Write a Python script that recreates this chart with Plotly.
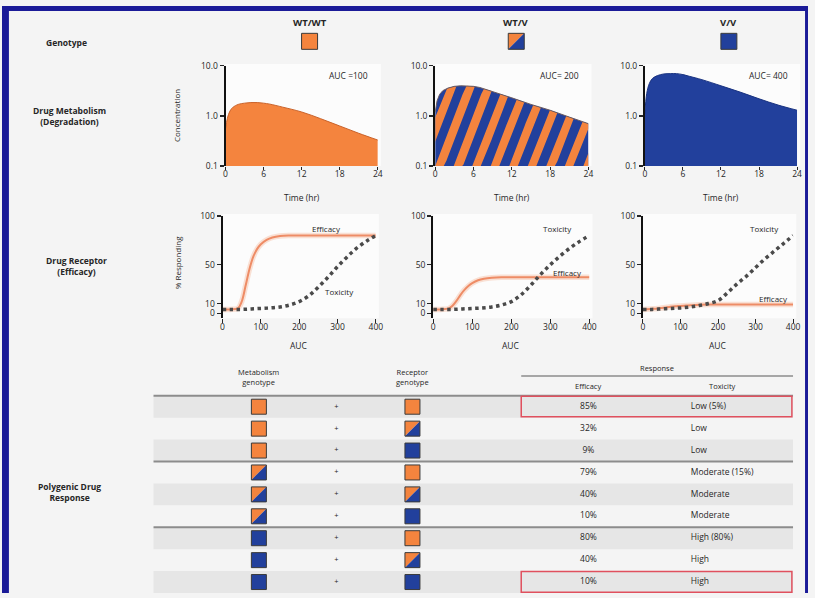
import math
import numpy as np
import plotly.graph_objects as go

W, H = 815, 598
ORANGE = "#F4843E"
BLUE = "#22409C"
EDGE_OR = "#C9622A"
EDGE_BL = "#1A3380"
EFF = "#EE8C66"
EFF_GLOW = "rgba(247,190,165,0.45)"
TOX = "#4a4a4a"
TXT = "#262626"
PAGE = "#F4F4F4"
PANEL = "#FCFCFC"
FRAME = "#1B1B98"
FONT = "Open Sans"

# ---- data -----------------------------------------------------------------
genotypes = ["WT/WT", "WT/V", "V/V"]
auc_labels = ["AUC =100", "AUC= 200", "AUC= 400"]

time_hr = [0, 0.3, 0.7, 1.2, 2, 3, 4, 5, 6, 7, 9, 12, 15, 18, 21, 24]
conc_wt_wt = [0.55, 0.9, 1.25, 1.5, 1.7, 1.8, 1.85, 1.85, 1.8, 1.72, 1.5, 1.2, 0.88, 0.63, 0.45, 0.33]
conc_wt_v = [1.2, 2.0, 2.7, 3.2, 3.6, 3.9, 4.0, 4.0, 3.9, 3.7, 3.1, 2.3, 1.7, 1.3, 0.95, 0.7]
conc_v_v = [1.1, 2.8, 4.4, 5.6, 6.4, 6.9, 7.0, 7.0, 6.7, 6.2, 5.3, 4.0, 3.0, 2.2, 1.65, 1.3]
time_ticks = [0, 6, 12, 18, 24]
conc_ticks = [0.1, 1.0, 10.0]
conc_tick_text = ["0.1", "1.0", "10.0"]

auc_eff = [0, 20, 40, 50, 60, 70, 80, 90, 100, 115, 130, 150, 175, 200, 250, 300, 350, 400]
eff_wt_wt = [4, 4, 5, 12, 28, 45, 58, 66, 71, 75.5, 78, 79.5, 80, 80, 80, 80, 80, 80]
eff_wt_v = [4, 4, 5, 8, 13, 19, 24, 28, 31, 34, 35.5, 36.5, 37, 37, 37, 37, 37, 37]
eff_v_v = [4, 4.5, 5, 5.5, 6, 6.5, 7, 7.3, 7.6, 8, 8.4, 8.8, 9, 9, 9, 9, 9, 9]

auc_tox = [0, 25, 50, 75, 100, 125, 150, 175, 200, 225, 250, 275, 300, 325, 350, 375, 400]
tox_wt_wt = [4, 4, 4, 4.5, 5, 5.5, 6.5, 8.5, 12, 18, 27, 37, 48, 58, 67, 74, 80]
tox_wt_v = [4, 4, 4, 4.5, 5, 5.5, 6.5, 8.5, 12, 19, 29, 40, 50, 59, 67, 74, 80]
tox_v_v = [4, 4, 4.5, 5, 5.5, 6.5, 8, 10, 13, 21, 30, 38, 47, 56, 64, 72, 80]
auc_ticks = [0, 100, 200, 300, 400]
resp_ticks = [0, 10, 50, 100]

# label anchors inside the response panels (AUC, % responding)
eff_label_pos = [(272, 87), (345, 42), (348, 15)]
tox_label_pos = [(305, 22), (318, 87), (325, 87)]

# polygenic response table
met_geno = ["WT/WT", "WT/WT", "WT/WT", "WT/V", "WT/V", "WT/V", "V/V", "V/V", "V/V"]
rec_geno = ["WT/WT", "WT/V", "V/V", "WT/WT", "WT/V", "V/V", "WT/WT", "WT/V", "V/V"]
efficacy_txt = ["85%", "32%", "9%", "79%", "40%", "10%", "80%", "40%", "10%"]
toxicity_txt = ["Low (5%)", "Low", "Low", "Moderate (15%)", "Moderate", "Moderate",
                "High (80%)", "High", "High"]
highlight_rows = [1, 9]

# heterozygote hatching: repeat along the time axis and slant per decade (hours)
STRIPE_PERIOD = 2.9
STRIPE_SLANT_PER_DECADE = 3.0


# ---- layout helpers ---------------------------------------------------------
def fx(x):
    return x / W


def fy(y):
    return 1 - y / H


def axn(k):
    return ("x" if k == 1 else f"x{k}"), ("y" if k == 1 else f"y{k}")


def hatch_under_curve(ts, conc, floor):
    """Slanted bands (in time / log-concentration space) cut to the area between
    the floor and the linearly joined curve. Returns x, y lists with None breaks."""
    tt = np.linspace(ts[0], ts[-1], 1201)
    top = np.interp(tt, ts, np.log10(conc))
    lb = math.log10(floor)
    s = STRIPE_SLANT_PER_DECADE
    span = s * (top.max() - lb)
    xs, ys = [], []
    k = -math.ceil(span / STRIPE_PERIOD) - 1
    while k * STRIPE_PERIOD < ts[-1]:
        a = k * STRIPE_PERIOD
        b = a + STRIPE_PERIOD / 2
        upper = np.minimum(top, (tt - a) / s + lb)
        lower = np.maximum(lb, (tt - b) / s + lb)
        idx = np.flatnonzero(upper > lower)
        if idx.size:
            runs = np.split(idx, np.flatnonzero(np.diff(idx) > 1) + 1)
            for run in runs:
                px = list(tt[run]) + list(tt[run][::-1])
                py = list(upper[run]) + list(lower[run][::-1])
                xs += px + [px[0], None]
                ys += [10 ** v for v in py] + [10 ** py[0], None]
        k += 1
    return xs, ys


TOP_X = [(226, 380), (438, 593), (650, 804)]
TOP_Y = (61, 163)
BOT_X = [(223, 378), (436, 594), (648, 800)]
BOT_Y = (214, 318)
TAB_X = (153, 800)
TAB_Y = (360, 598)

# table column positions (fraction of table width)
C_MET, C_PLUS, C_REC, C_EFF, C_TOX = 0.165, 0.286, 0.405, 0.68, 0.84
C_RESP0 = 0.575

fig = go.Figure()
shapes = []
annotations = []


def geno_box(xref, yref, xa, ya, geno, half=7.5, lw=1.0):
    """Genotype swatch: solid orange, solid blue, or split diagonally."""
    common = dict(xref=xref, yref=yref, xsizemode="pixel", ysizemode="pixel",
                  xanchor=xa, yanchor=ya, layer="above")
    h = half
    if geno == "WT/WT":
        shapes.append(dict(type="rect", x0=-h, x1=h, y0=-h, y1=h, fillcolor=ORANGE,
                           line=dict(color="#3a3a3a", width=lw), **common))
    elif geno == "V/V":
        shapes.append(dict(type="rect", x0=-h, x1=h, y0=-h, y1=h, fillcolor=BLUE,
                           line=dict(color="#3a3a3a", width=lw), **common))
    else:
        shapes.append(dict(type="path", path=f"M{-h},{h} L{h},{h} L{-h},{-h} Z",
                           fillcolor=ORANGE, line=dict(width=0), **common))
        shapes.append(dict(type="path", path=f"M{h},{h} L{h},{-h} L{-h},{-h} Z",
                           fillcolor=BLUE, line=dict(width=0), **common))
        shapes.append(dict(type="rect", x0=-h, x1=h, y0=-h, y1=h,
                           line=dict(color="#3a3a3a", width=lw), **common))


def text(x, y, s, size=9, bold=False, xref="paper", yref="paper", **kw):
    if bold:
        s = f"<b>{s}</b>"
    kw.setdefault("xanchor", "center")
    kw.setdefault("yanchor", "middle")
    annotations.append(dict(x=x, y=y, xref=xref, yref=yref, text=s, showarrow=False,
                            font=dict(family=FONT, size=size, color=TXT), **kw))


def hidden(**kw):
    return go.Scatter(mode="lines", line=dict(width=0), hoverinfo="skip",
                      showlegend=False, **kw)


# ---- concentration-time panels ---------------------------------------------
conc_series = [conc_wt_wt, conc_wt_v, conc_v_v]
t_lo, t_hi = time_hr[0], time_hr[-1]
c_lo, c_hi = conc_ticks[0], conc_ticks[-1]
for i, conc in enumerate(conc_series):
    xa, ya = axn(i + 1)
    geno = genotypes[i]
    fill = ORANGE if geno == "WT/WT" else BLUE
    edge = EDGE_OR if geno == "WT/WT" else EDGE_BL
    shape = "linear" if geno == "WT/V" else "spline"
    fig.add_trace(hidden(x=[t_lo, t_hi], y=[c_lo, c_lo], xaxis=xa, yaxis=ya))
    fig.add_trace(go.Scatter(x=time_hr, y=conc, fill="tonexty", fillcolor=fill,
                             mode="lines", line=dict(width=0, shape=shape),
                             hoverinfo="skip", showlegend=False, xaxis=xa, yaxis=ya))
    if geno == "WT/V":
        # orange hatching over the blue area for the heterozygote
        hx, hy = hatch_under_curve(time_hr, conc, c_lo)
        fig.add_trace(go.Scatter(x=hx, y=hy, fill="toself", fillcolor=ORANGE,
                                 mode="lines", line=dict(width=0), hoverinfo="skip",
                                 showlegend=False, xaxis=xa, yaxis=ya))
        edge = "#6a5a60"
    fig.add_trace(go.Scatter(x=time_hr, y=conc, mode="lines",
                             line=dict(color=edge, width=1, shape=shape),
                             hoverinfo="skip", showlegend=False, xaxis=xa, yaxis=ya))
    annotations.append(dict(x=0.81, y=0.9, xref=f"{xa} domain", yref=f"{ya} domain",
                            text=auc_labels[i], showarrow=False, xanchor="center",
                            yanchor="middle", font=dict(family=FONT, size=8.5, color=TXT)))

# ---- dose-response panels ---------------------------------------------------
eff_series = [eff_wt_wt, eff_wt_v, eff_v_v]
tox_series = [tox_wt_wt, tox_wt_v, tox_v_v]
for i in range(3):
    xa, ya = axn(i + 4)
    fig.add_trace(go.Scatter(x=auc_eff, y=eff_series[i], mode="lines",
                             line=dict(color=EFF_GLOW, width=5.5, shape="spline"),
                             hoverinfo="skip", showlegend=False, xaxis=xa, yaxis=ya))
    fig.add_trace(go.Scatter(x=auc_eff, y=eff_series[i], mode="lines",
                             line=dict(color=EFF, width=2, shape="spline"),
                             hoverinfo="skip", showlegend=False, xaxis=xa, yaxis=ya))
    fig.add_trace(go.Scatter(x=auc_tox, y=tox_series[i], mode="lines",
                             line=dict(color=TOX, width=3.5, dash="3.5px,3.5px",
                                       shape="spline"),
                             hoverinfo="skip", showlegend=False, xaxis=xa, yaxis=ya))
    ex, ey = eff_label_pos[i]
    tx, ty = tox_label_pos[i]
    text(ex, ey, "Efficacy", size=8, xref=xa, yref=ya)
    text(tx, ty, "Toxicity", size=8, xref=xa, yref=ya)

# ---- polygenic response table -----------------------------------------------
rows = list(range(1, len(efficacy_txt) + 1))
xt, yt = axn(7)
for r in rows:
    if r % 2 == 1:
        shapes.append(dict(type="rect", xref=xt, yref=yt, x0=0, x1=1, y0=r - 0.5, y1=r + 0.5,
                           fillcolor="#E6E6E6", line=dict(width=0), layer="below"))
for b in [0.5, 3.5, 6.5]:
    shapes.append(dict(type="line", xref=xt, yref=yt, x0=0, x1=1, y0=b, y1=b,
                       line=dict(color="#8C8C8C", width=2)))
shapes.append(dict(type="line", xref=xt, yref=yt, x0=C_RESP0, x1=1, y0=-0.4, y1=-0.4,
                   line=dict(color="#8C8C8C", width=1.5)))
for r in highlight_rows:
    shapes.append(dict(type="rect", xref=xt, yref=yt, x0=C_RESP0, x1=0.998,
                       y0=r - 0.48, y1=r + 0.46, line=dict(color="#E0505E", width=1.5)))
for r, m, c in zip(rows, met_geno, rec_geno):
    geno_box(xt, yt, C_MET, r, m)
    geno_box(xt, yt, C_REC, r, c)

tab_font = dict(family=FONT, size=8.5, color=TXT)
fig.add_trace(go.Scatter(x=[C_PLUS] * len(rows), y=rows, text=["+"] * len(rows),
                         mode="text", textfont=dict(family=FONT, size=7.5, color=TXT),
                         hoverinfo="skip", showlegend=False, xaxis=xt, yaxis=yt))
fig.add_trace(go.Scatter(x=[C_EFF] * len(rows), y=rows, text=efficacy_txt,
                         mode="text", textfont=tab_font, hoverinfo="skip",
                         showlegend=False, xaxis=xt, yaxis=yt))
fig.add_trace(go.Scatter(x=[C_TOX] * len(rows), y=rows, text=toxicity_txt,
                         mode="text", textposition="middle right", textfont=tab_font,
                         hoverinfo="skip", showlegend=False, xaxis=xt, yaxis=yt))

text(C_MET, -0.35, "Metabolism<br>genotype", size=7.5, xref=xt, yref=yt)
text(C_REC, -0.35, "Receptor<br>genotype", size=7.5, xref=xt, yref=yt)
text((C_RESP0 + 1) / 2, -0.75, "Response", size=7.5, xref=xt, yref=yt)
text(C_EFF, 0.05, "Efficacy", size=7.5, xref=xt, yref=yt)
text(0.89, 0.05, "Toxicity", size=7.5, xref=xt, yref=yt)

# ---- row and column headers -------------------------------------------------
text(fx(65), fy(37), "Genotype", size=8.5, bold=True)
text(fx(68), fy(112), "Drug Metabolism<br>(Degradation)", size=8.5, bold=True)
text(fx(75), fy(265), "Drug Receptor<br>(Efficacy)", size=8.5, bold=True)
text(fx(68), fy(495), "Polygenic Drug<br>Response", size=8.5, bold=True)
for g, cx in zip(genotypes, [311, 520, 735]):
    text(fx(cx), fy(17), g, size=9.5, bold=True)
    geno_box("paper", "paper", fx(cx), fy(36), g, half=8)

text(fx(177), fy(112), "Concentration", size=8, textangle=-90)
text(fx(177), fy(262), "% Responding", size=8, textangle=-90)
for (x0, x1) in TOP_X:
    text(fx((x0 + x1) / 2), fy(195), "Time (hr)", size=8.5)
for (x0, x1) in BOT_X:
    text(fx((x0 + x1) / 2), fy(346), "AUC", size=8.5)

# light plotting areas
for k in range(1, 7):
    xa, ya = axn(k)
    shapes.append(dict(type="rect", xref=f"{xa} domain", yref=f"{ya} domain",
                       x0=0, x1=1.02, y0=0, y1=1.02, fillcolor=PANEL,
                       line=dict(width=0), layer="below"))

# blue slide frame
for x0, x1, y0, y1 in [(0, 7, 0, H), (0, W, 0, 5), (812, W, 0, H)]:
    shapes.append(dict(type="rect", xref="paper", yref="paper", x0=fx(x0), x1=fx(x1),
                       y0=fy(y1), y1=fy(y0), fillcolor=FRAME, line=dict(width=0),
                       layer="above"))

# ---- axes -------------------------------------------------------------------
tickfont = dict(family=FONT, size=8.5, color=TXT)
layout_axes = {}
for i in range(3):
    k = i + 1
    x0, x1 = TOP_X[i]
    xa, ya = axn(k)
    layout_axes["xaxis" if k == 1 else f"xaxis{k}"] = dict(
        domain=[fx(x0), fx(x1)], range=[t_lo, t_hi], anchor=ya, tickvals=time_ticks,
        ticks="outside", ticklen=3, tickwidth=1, tickcolor=TXT, showline=False,
        showgrid=False, zeroline=False, tickfont=tickfont, ticklabelstandoff=-3)
    layout_axes["yaxis" if k == 1 else f"yaxis{k}"] = dict(
        domain=[fy(TOP_Y[1]), fy(TOP_Y[0])], type="log", range=[-1, 1], anchor=xa,
        tickvals=conc_ticks, ticktext=conc_tick_text, ticks="outside", ticklen=4,
        tickwidth=1.2, tickcolor=TXT, showline=True, linecolor="#111", linewidth=2,
        showgrid=False, zeroline=False, tickfont=tickfont)
for i in range(3):
    k = i + 4
    x0, x1 = BOT_X[i]
    xa, ya = axn(k)
    layout_axes[f"xaxis{k}"] = dict(
        domain=[fx(x0), fx(x1)], range=[0, 400], anchor=ya, tickvals=auc_ticks,
        ticks="outside", ticklen=4, tickwidth=1, tickcolor=TXT, showline=False,
        showgrid=False, zeroline=False, tickfont=tickfont, ticklabelstandoff=-3)
    layout_axes[f"yaxis{k}"] = dict(
        domain=[fy(BOT_Y[1]), fy(BOT_Y[0])], range=[-5, 100], anchor=xa,
        tickvals=resp_ticks, ticks="outside", ticklen=4, tickwidth=1.2, tickcolor=TXT,
        showline=True, linecolor="#111", linewidth=2, showgrid=False, zeroline=False,
        tickfont=tickfont)
layout_axes["xaxis7"] = dict(domain=[fx(TAB_X[0]), fx(TAB_X[1])], range=[0, 1],
                             anchor="y7", visible=False)
layout_axes["yaxis7"] = dict(domain=[fy(TAB_Y[1]), fy(TAB_Y[0])], range=[9.5, -1.16],
                             anchor="x7", visible=False)

fig.update_layout(
    width=W, height=H, autosize=False,
    margin=dict(l=0, r=0, t=0, b=0),
    paper_bgcolor=PAGE, plot_bgcolor="rgba(0,0,0,0)",
    showlegend=False, hovermode=False, shapes=shapes, annotations=annotations,
    font=dict(family=FONT, color=TXT),
    **layout_axes,
)

fig.write_html("out.html", config={"staticPlot": True, "displayModeBar": False})
